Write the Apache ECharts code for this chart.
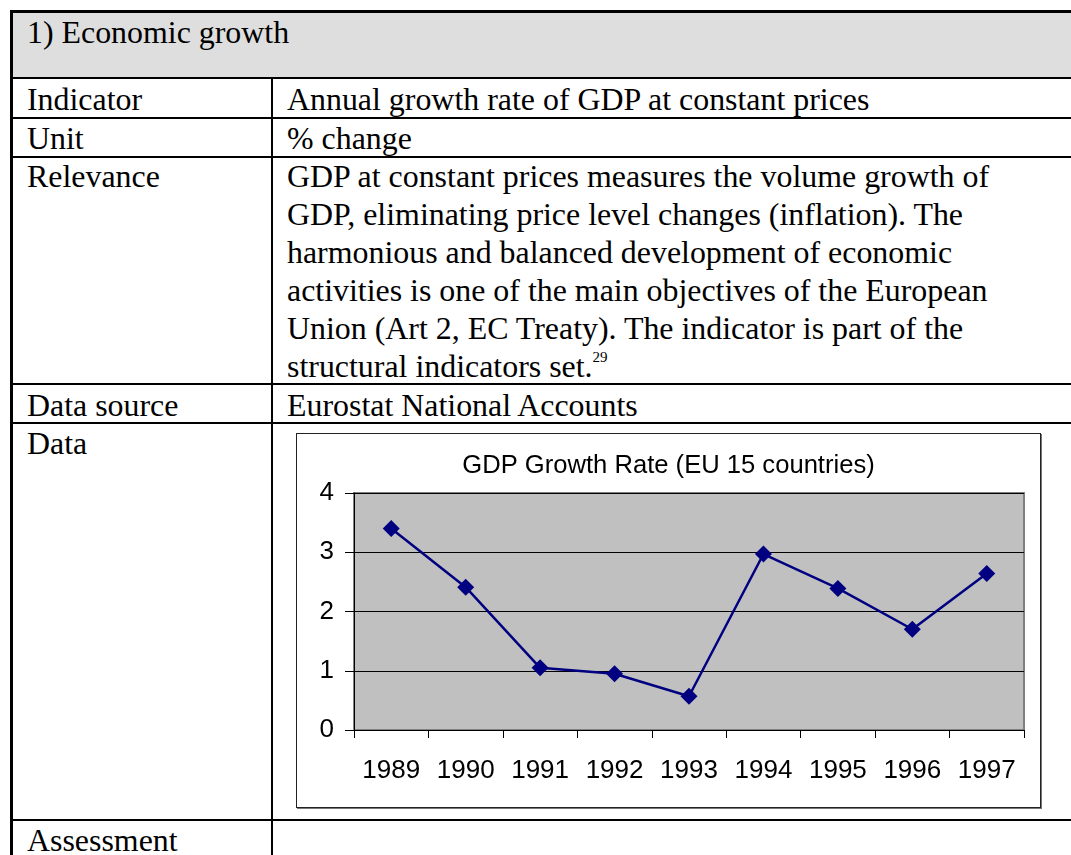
<!DOCTYPE html>
<html>
<head>
<meta charset="utf-8">
<script src="https://cdn.jsdelivr.net/npm/echarts@6/dist/echarts.min.js"></script>
<style>
  html, body { margin: 0; padding: 0; background: #fff; }
  body { width: 1071px; height: 855px; overflow: hidden; position: relative;
         font-family: 'Liberation Serif', 'Times New Roman', serif; font-size: 31.9px; color: #000; }
  .ln { position: absolute; background: #000; }
  .t { position: absolute; white-space: nowrap; line-height: 38px; height: 38px; }
  sup { font-size: 15px; vertical-align: baseline; position: relative; top: -15px; }
  #box { position: absolute; left: 296px; top: 433px; width: 743px; height: 373px;
         border: 1px solid #222; box-shadow: 1px 1px 0 #777; background: #fff; }
  #chart { position: absolute; left: 0; top: 0; width: 743px; height: 373px; }
</style>
</head>
<body>
<!-- header background -->
<div style="position:absolute;left:13px;top:13px;width:1058px;height:65px;background:#DEDEDE;"></div>
<!-- outer borders -->
<div class="ln" style="left:10px;top:10px;width:1061px;height:3px;"></div>
<div class="ln" style="left:10px;top:10px;width:3px;height:845px;"></div>
<!-- row lines -->
<div class="ln" style="left:13px;top:77px;width:1058px;height:2px;"></div>
<div class="ln" style="left:13px;top:116.5px;width:1058px;height:2px;"></div>
<div class="ln" style="left:13px;top:155.5px;width:1058px;height:2px;"></div>
<div class="ln" style="left:13px;top:383px;width:1058px;height:2px;"></div>
<div class="ln" style="left:13px;top:421.5px;width:1058px;height:2px;"></div>
<div class="ln" style="left:13px;top:818.5px;width:1058px;height:2px;"></div>
<!-- column divider -->
<div class="ln" style="left:271px;top:78px;width:2px;height:777px;"></div>

<!-- texts -->
<div class="t" style="left:27px;top:14px;">1) Economic growth</div>
<div class="t" style="left:27px;top:80.5px;">Indicator</div>
<div class="t" style="left:287px;top:80.5px;">Annual growth rate of GDP at constant prices</div>
<div class="t" style="left:27px;top:119.5px;">Unit</div>
<div class="t" style="left:287px;top:119.5px;">% change</div>
<div class="t" style="left:27px;top:158px;">Relevance</div>
<div class="t" style="left:287px;top:158px;">GDP at constant prices measures the volume growth of</div>
<div class="t" style="left:287px;top:196px;">GDP, eliminating price level changes (inflation). The</div>
<div class="t" style="left:287px;top:234px;">harmonious and balanced development of economic</div>
<div class="t" style="left:287px;top:272px;">activities is one of the main objectives of the European</div>
<div class="t" style="left:287px;top:310px;">Union (Art 2, EC Treaty). The indicator is part of the</div>
<div class="t" style="left:287px;top:348px;">structural indicators set.<sup>29</sup></div>
<div class="t" style="left:27px;top:386.5px;">Data source</div>
<div class="t" style="left:287px;top:386.5px;">Eurostat National Accounts</div>
<div class="t" style="left:27px;top:424.5px;">Data</div>
<div class="t" style="left:27px;top:821.5px;">Assessment</div>

<div id="box"><div id="chart"></div></div>

<script>
// ---- chart data ----
const chartTitle = 'GDP Growth Rate (EU 15 countries)';
const years = ['1989', '1990', '1991', '1992', '1993', '1994', '1995', '1996', '1997'];
const gdpGrowth = [3.4, 2.41, 1.05, 0.95, 0.57, 2.97, 2.39, 1.70, 2.64];
const yMin = 0, yMax = 4, yStep = 1;

const chart = echarts.init(document.getElementById('chart'), null, { renderer: 'canvas' });
const axisFont = { fontFamily: "'Liberation Sans', Arial, sans-serif", fontSize: 26, color: '#000' };
chart.setOption({
  animation: false,
  backgroundColor: '#fff',
  title: {
    text: chartTitle, left: 'center', top: 19, padding: 0,
    textStyle: { fontFamily: "'Liberation Sans', Arial, sans-serif", fontSize: 25.6, fontWeight: 'normal', color: '#000' }
  },
  grid: {
    left: 57, top: 59, right: 16, bottom: 77,
    show: true, backgroundColor: '#C0C0C0', borderColor: '#808080', borderWidth: 2
  },
  xAxis: {
    type: 'category', data: years, boundaryGap: true,
    axisLine: { show: true, lineStyle: { color: '#000', width: 1 } },
    axisTick: { show: true, length: 8, alignWithLabel: false, lineStyle: { color: '#000' } },
    axisLabel: Object.assign({ margin: 28, interval: 0 }, axisFont),
    splitLine: { show: false }
  },
  yAxis: {
    type: 'value', min: yMin, max: yMax, interval: yStep,
    axisLine: { show: true, lineStyle: { color: '#000', width: 1 } },
    axisTick: { show: true, length: 9, lineStyle: { color: '#000' } },
    axisLabel: Object.assign({ margin: 20 }, axisFont),
    splitLine: { show: true, lineStyle: { color: '#000', width: 1 } }
  },
  series: [{
    type: 'line', data: gdpGrowth,
    symbol: 'diamond', symbolSize: [17, 17],
    lineStyle: { color: '#000080', width: 2.5 },
    itemStyle: { color: '#000080' }
  }]
});
</script>
</body>
</html>
